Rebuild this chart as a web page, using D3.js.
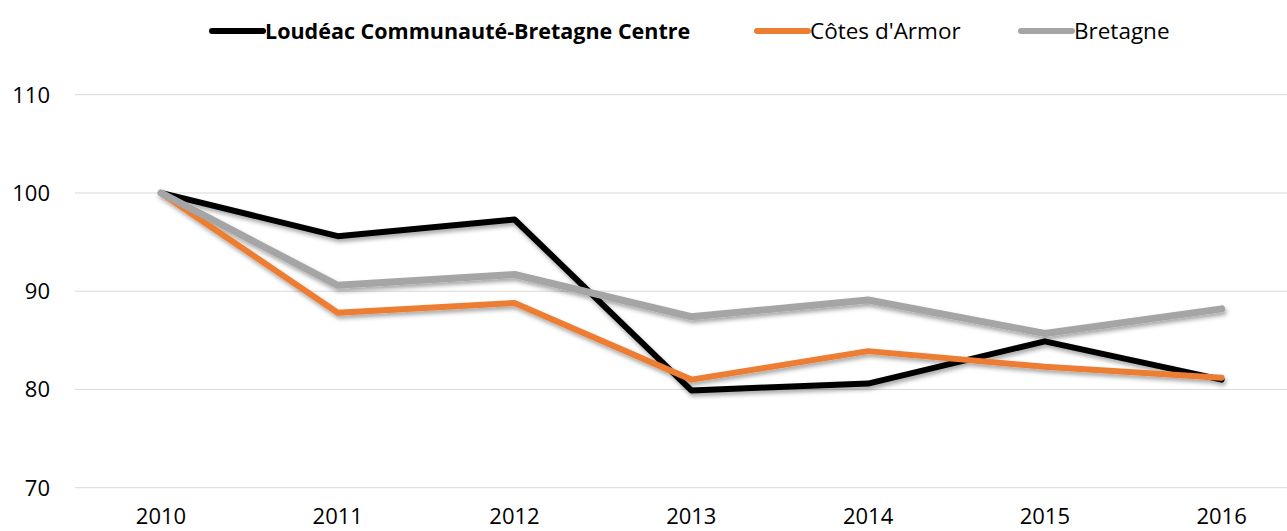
<!DOCTYPE html>
<html>
<head>
<meta charset="utf-8">
<script src="https://cdn.jsdelivr.net/npm/d3@7"></script>
<style>
  body { margin: 0; background: #fff; }
  svg { display: block; font-family: "Open Sans", sans-serif; }
</style>
</head>
<body>
<svg></svg>
<script>
const years = ["2010", "2011", "2012", "2013", "2014", "2015", "2016"];
const loudeac = [100, 95.6, 97.3, 79.9, 80.6, 84.9, 81.0];
const cotes = [100, 87.8, 88.8, 81.0, 83.9, 82.3, 81.2];
const bretagne = [100, 90.6, 91.7, 87.4, 89.1, 85.7, 88.2];
const yTicks = [70, 80, 90, 100, 110];

const series = [
  { name: "Loudéac Communauté-Bretagne Centre", values: loudeac, color: "#000000", bold: true },
  { name: "Côtes d'Armor", values: cotes, color: "#ED7D31", bold: false },
  { name: "Bretagne", values: bretagne, color: "#A5A5A5", bold: false },
];

let width = 1287,
  height = 531;

let svg = d3.select("svg").attr("width", width).attr("height", height);

let x = d3.scalePoint().domain(years).range([72.6, 1310]).padding(0.5);
let y = d3.scaleLinear().domain([70, 110]).range([487.7, 94.7]);

// shadow under the lines
let defs = svg.append("defs");
defs
  .append("filter")
  .attr("id", "shadow")
  .attr("x", "-5%")
  .attr("y", "-20%")
  .attr("width", "110%")
  .attr("height", "140%")
  .append("feDropShadow")
  .attr("dx", 1.5)
  .attr("dy", 3)
  .attr("stdDeviation", 2)
  .attr("flood-color", "#000")
  .attr("flood-opacity", 0.35);

// gridlines
svg
  .append("g")
  .attr("class", "grid")
  .selectAll("line")
  .data(yTicks)
  .enter()
  .append("line")
  .attr("x1", 75)
  .attr("x2", width)
  .attr("y1", (d) => y(d))
  .attr("y2", (d) => y(d))
  .attr("stroke", "#D9D9D9")
  .attr("stroke-width", 1);

// y labels
svg
  .append("g")
  .selectAll("text")
  .data(yTicks)
  .enter()
  .append("text")
  .attr("x", 50)
  .attr("y", (d) => y(d))
  .attr("dy", "0.36em")
  .attr("text-anchor", "end")
  .attr("font-size", 22)
  .attr("fill", "#000")
  .text((d) => d);

// x labels
svg
  .append("g")
  .selectAll("text")
  .data(years)
  .enter()
  .append("text")
  .attr("x", (d) => x(d))
  .attr("y", 524)
  .attr("text-anchor", "middle")
  .attr("font-size", 22)
  .attr("fill", "#000")
  .text((d) => d);

// lines
let line = d3
  .line()
  .x((d, i) => x(years[i]))
  .y((d) => y(d));

svg
  .append("g")
  .attr("filter", "url(#shadow)")
  .selectAll("path")
  .data(series)
  .enter()
  .append("path")
  .attr("d", (s) => line(s.values))
  .attr("fill", "none")
  .attr("stroke", (s) => s.color)
  .attr("stroke-width", (s) => (s.name == "Bretagne" ? 7 : 6))
  .attr("stroke-linejoin", "round")
  .attr("stroke-linecap", "round");

// legend
const legendX = [209, 754, 1018];
let legend = svg
  .append("g")
  .selectAll("g")
  .data(series)
  .enter()
  .append("g")
  .attr("transform", (s, i) => `translate(${legendX[i]},31)`);

legend
  .append("line")
  .attr("x1", 3)
  .attr("x2", 54)
  .attr("stroke", (s) => s.color)
  .attr("stroke-width", 6)
  .attr("stroke-linecap", "round");

legend
  .append("text")
  .attr("x", 56)
  .attr("dy", "0.36em")
  .attr("font-size", (s) => (s.bold ? 21.5 : 22.5))
  .attr("font-weight", (s) => (s.bold ? "bold" : "normal"))
  .attr("fill", "#000")
  .text((s) => s.name);
</script>
</body>
</html>
